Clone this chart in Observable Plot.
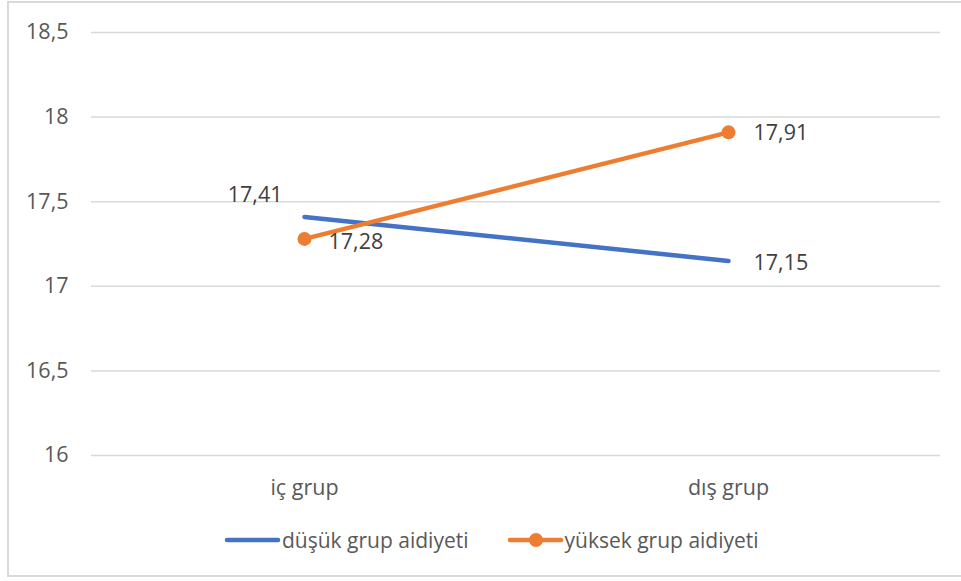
<!DOCTYPE html>
<html>
<head>
<meta charset="utf-8">
<script src="https://cdn.jsdelivr.net/npm/d3@7"></script>
<script src="https://cdn.jsdelivr.net/npm/@observablehq/plot@0.6"></script>
<style>
  html, body { margin: 0; padding: 0; background: #fff; }
  #wrap { position: relative; width: 961px; height: 581px; overflow: hidden; font-family: "Open Sans", sans-serif; }
  #frame { position: absolute; left: 7px; top: 1px; width: 956px; height: 576px; border: 2px solid #d9d9d9; box-sizing: border-box; }
  #chart { position: absolute; left: 0; top: 0; }
  #legend { position: absolute; left: 220px; top: 526px; height: 28px; display: flex; align-items: center; font-size: 21px; color: #595959; }
  #legend .item { display: flex; align-items: center; }
  #legend svg { display: block; }
</style>
</head>
<body>
<div id="wrap">
  <div id="frame"></div>
  <div id="chart"></div>
  <div id="legend"></div>
</div>
<script>
const categories = ["iç grup", "dış grup"];
const seriesNames = ["düşük grup aidiyeti", "yüksek grup aidiyeti"];
const lowValues = [17.41, 17.15];
const highValues = [17.28, 17.91];
const yTicks = [16, 16.5, 17, 17.5, 18, 18.5];
const colors = ["#4472C4", "#ED7D31"];

const fmt = d => String(d).replace(".", ",");

const low = categories.map((c, i) => ({cat: c, value: lowValues[i], series: seriesNames[0]}));
const high = categories.map((c, i) => ({cat: c, value: highValues[i], series: seriesNames[1]}));

const FS = 21.5;

const plot = Plot.plot({
  width: 961,
  height: 510,
  marginLeft: 91,
  marginRight: 21,
  marginTop: 32,
  marginBottom: 55,
  style: {fontFamily: "Open Sans, sans-serif", fontSize: FS + "px", color: "#595959", background: "transparent"},
  x: {type: "point", domain: categories, padding: 0.5, label: null},
  y: {domain: [16, 18.5], label: null},
  marks: [
    Plot.ruleY(yTicks, {stroke: "#d9d9d9", strokeWidth: 1.5}),
    Plot.axisY({ticks: yTicks, tickFormat: fmt, tickSize: 0, tickPadding: 23, fill: "#595959", fontSize: FS, label: null}),
    Plot.axisX({tickSize: 0, tickPadding: 24, fill: "#595959", fontSize: FS, label: null}),
    Plot.line(low, {x: "cat", y: "value", stroke: colors[0], strokeWidth: 4.5, strokeLinecap: "round"}),
    Plot.line(high, {x: "cat", y: "value", stroke: colors[1], strokeWidth: 4.5, strokeLinecap: "round"}),
    Plot.dot(high, {x: "cat", y: "value", r: 7, fill: colors[1], stroke: null}),
    Plot.text([low[0]], {x: "cat", y: "value", text: d => fmt(d.value), textAnchor: "end", dx: -22, dy: -22, fill: "#404040", fontSize: FS}),
    Plot.text([low[1]], {x: "cat", y: "value", text: d => fmt(d.value), textAnchor: "start", dx: 25, dy: 2, fill: "#404040", fontSize: FS}),
    Plot.text([high[0]], {x: "cat", y: "value", text: d => fmt(d.value), textAnchor: "start", dx: 24, dy: 3, fill: "#404040", fontSize: FS}),
    Plot.text([high[1]], {x: "cat", y: "value", text: d => fmt(d.value), textAnchor: "start", dx: 25, dy: 1, fill: "#404040", fontSize: FS})
  ]
});
document.getElementById("chart").appendChild(plot);

const legend = document.getElementById("legend");
seriesNames.forEach((name, i) => {
  const item = document.createElement("div");
  item.className = "item";
  item.style.marginRight = i === 0 ? "34px" : "0";
  const marker = i === 1 ? `<circle cx="33" cy="14" r="7" fill="${colors[i]}"/>` : "";
  item.innerHTML = `<svg width="62" height="28"><line x1="7" y1="14" x2="58" y2="14" stroke="${colors[i]}" stroke-width="4.5" stroke-linecap="round"/>${marker}</svg><span>${name}</span>`;
  legend.appendChild(item);
});
</script>
</body>
</html>
